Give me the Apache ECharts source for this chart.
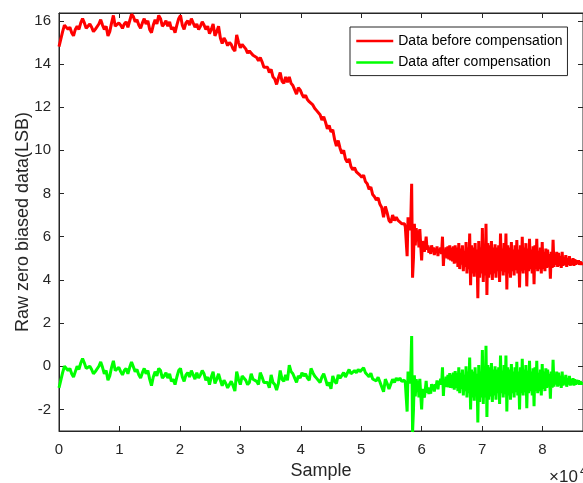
<!DOCTYPE html>
<html><head><meta charset="utf-8">
<script src="https://cdn.jsdelivr.net/npm/echarts@6.0.0/dist/echarts.min.js"></script>
<style>html,body{margin:0;padding:0;background:#fff}#c{width:583px;height:483px}</style>
</head><body><div id="c"></div>
<script>
const seriesNames = ['Data before compensation', 'Data after compensation'];
// sample spacing of the stored points: coarse part, then the dense noisy part
const STEP_EARLY = 300;
const LATE_START = 57000;
const STEP_LATE = 150;
// raw data (before compensation), samples 0 .. 56700
const beforeEarly = [
14.8,14.8,15.5,15.8,15.75,15.6,15.7,15.45,15.3,15.6,
15.75,15.6,15.9,16.1,15.9,15.65,15.7,15.85,15.7,15.5,
15.6,15.55,15.85,16.05,15.8,15.6,15.75,15.3,15.5,15.9,
16.25,15.75,15.7,15.9,15.8,15.65,15.85,15.95,15.7,16.0,
16.3,16.2,15.95,16.05,15.8,15.65,15.9,16.1,15.85,16.0,
15.6,15.45,15.8,16.05,15.85,16.25,16.1,15.75,15.85,16.0,
15.75,15.95,15.6,15.7,15.45,15.8,16.1,16.25,15.8,15.6,
15.9,16.0,15.8,16.1,16.05,15.7,15.85,15.6,15.75,15.95,
15.8,15.6,15.75,15.4,15.6,15.85,15.3,15.5,15.75,15.2,
14.95,15.2,15.05,14.85,15.0,14.9,14.7,14.6,15.35,15.0,
14.75,14.9,14.95,14.7,14.5,14.6,14.65,14.4,14.45,14.3,
14.15,14.3,14.1,13.85,13.8,13.85,13.6,13.75,13.4,13.3,
13.05,13.35,13.6,13.2,13.1,13.4,13.15,13.4,13.1,13.0,
12.8,12.6,12.9,12.8,12.6,12.45,12.55,12.35,12.25,12.3,
12.1,11.95,11.85,11.9,11.65,11.4,11.55,11.3,11.0,11.15,
10.85,10.95,10.5,10.2,10.45,10.1,9.85,10.0,9.6,9.45,
9.6,9.25,9.1,9.2,9.0,9.05,8.85,8.75,8.85,8.55,
8.45,8.2,8.3,7.95,7.85,7.7,7.8,7.5,7.35,6.9,
7.4,7.1,6.75,6.65,7.0,6.75,6.9,6.75,6.8,6.6
];
// raw data (before compensation), samples 57000 .. 86700
const beforeLate = [
6.55,6.6,6.45,6.5,5.1,6.9,6.6,6.3,6.7,8.45,
4.1,5.0,6.6,5.6,6.4,5.8,6.3,5.5,6.35,5.6,
4.9,5.8,5.5,5.3,5.6,6.0,5.4,5.6,5.25,5.5,
5.2,5.6,5.35,5.5,5.15,5.45,5.3,5.55,5.1,5.45,
5.25,5.5,5.2,6.0,4.65,5.4,5.05,5.5,5.0,5.55,
4.95,5.6,4.9,5.5,4.85,5.55,4.75,5.6,4.8,5.5,
4.6,5.7,4.5,5.45,4.7,5.6,4.4,5.35,4.6,5.75,
4.3,5.5,4.5,6.15,3.75,5.6,4.3,5.5,4.15,5.7,
4.4,5.4,3.15,5.8,4.1,5.5,4.3,6.4,3.9,5.6,
4.2,6.6,3.3,5.7,4.1,5.6,4.25,5.8,4.0,5.5,
4.3,5.65,4.1,5.5,4.4,5.6,3.9,6.15,4.4,5.45,
4.2,5.7,4.35,6.15,3.55,5.6,4.3,5.5,4.1,5.75,
4.4,5.4,4.2,5.6,4.45,5.85,4.3,5.4,3.65,5.6,
4.4,6.0,4.3,5.5,4.45,5.7,3.7,5.45,4.4,5.9,
4.5,5.4,4.3,5.55,3.8,5.6,4.5,5.9,4.4,5.35,
4.5,5.5,4.3,5.75,4.5,5.3,4.4,5.45,4.55,5.4,
4.6,5.2,4.05,5.3,4.55,5.85,4.6,5.2,4.7,5.3,
4.6,5.25,4.65,5.1,4.55,5.3,4.65,5.05,4.7,5.15,
4.6,5.0,4.7,5.1,4.65,4.95,4.7,5.0,4.65,4.95,
4.7,4.9,4.75,4.9,4.7,4.85,4.75,4.8,4.75
];
// data after compensation, samples 0 .. 56700
const afterEarly = [
-1.0,-1.0,-0.3,0.0,-0.05,-0.2,-0.1,-0.35,-0.5,-0.25,
0.0,-0.15,0.15,0.35,0.15,-0.1,-0.05,0.0,-0.15,-0.35,
-0.25,-0.3,0.0,0.2,-0.05,-0.35,-0.2,-0.65,-0.45,-0.05,
0.25,-0.2,-0.25,-0.05,-0.25,-0.4,-0.2,-0.1,-0.35,-0.05,
0.2,0.15,-0.25,-0.15,-0.4,-0.55,-0.3,-0.1,-0.35,-0.2,
-0.6,-0.9,-0.5,-0.25,-0.45,-0.1,-0.2,-0.55,-0.45,-0.3,
-0.55,-0.35,-0.7,-0.6,-0.85,-0.5,-0.2,-0.1,-0.5,-0.7,
-0.4,-0.3,-0.5,-0.2,-0.25,-0.6,-0.3,-0.55,-0.4,-0.2,
-0.35,-0.65,-0.5,-0.85,-0.5,-0.25,-0.8,-0.6,-0.35,-0.65,
-0.9,-0.65,-0.8,-1.0,-0.85,-0.7,-0.9,-1.15,-0.25,-0.6,
-0.85,-0.45,-0.4,-0.65,-0.85,-0.75,-0.35,-0.6,-0.55,-0.7,
-0.85,-0.3,-0.5,-0.75,-0.8,-0.75,-1.0,-0.4,-0.75,-0.85,
-1.1,-0.8,-0.2,-0.6,-0.7,-0.4,-0.65,0.05,-0.25,-0.35,
-0.55,-0.75,-0.45,-0.55,-0.3,-0.45,-0.35,-0.55,-0.65,-0.1,
-0.3,-0.45,-0.55,-0.5,-0.75,-0.5,-0.35,-0.6,-0.9,-0.75,
-1.05,-0.45,-0.7,-0.8,-0.4,-0.55,-0.6,-0.3,-0.5,-0.45,
-0.15,-0.35,-0.4,-0.2,-0.3,-0.15,-0.25,-0.25,-0.07,-0.3,
-0.32,-0.49,-0.32,-0.59,-0.61,-0.68,-0.51,-0.73,-0.8,-1.18,
-0.6,-0.8,-1.05,-1.05,-0.6,-0.75,-0.55,-0.65,-0.55,-0.7
];
// data after compensation, samples 57000 .. 86700
const afterLate = [
-0.7,-0.65,-0.77,-0.7,-2.1,-0.25,-0.53,-0.8,-0.38,1.4,
-3.05,-2.03,-0.42,-1.4,-0.6,-1.18,-0.66,-1.45,-0.58,-1.31,
-2.0,-1.05,-1.3,-1.45,-1.12,-0.68,-1.23,-0.98,-1.29,-1.0,
-1.27,-0.83,-1.05,-0.86,-1.17,-0.83,-0.95,-0.66,-1.07,-0.69,
-0.85,-0.58,-0.86,-0.05,-1.38,-0.61,-0.95,-0.48,-0.97,-0.4,
-0.98,-0.32,-1.0,-0.39,-1.02,-0.3,-1.09,-0.22,-1.01,-0.3,
-1.15,-0.05,-1.25,-0.3,-1.05,-0.15,-1.35,-0.4,-1.15,0.0,
-1.45,-0.25,-1.25,0.4,-2.0,-0.15,-1.45,-0.25,-1.6,-0.05,
-1.35,-0.35,-2.6,0.05,-1.65,-0.25,-1.45,0.75,-1.75,-0.05,
-1.45,0.95,-2.35,0.05,-1.55,-0.05,-1.4,0.15,-1.65,-0.15,
-1.35,0.0,-1.55,-0.15,-1.25,-0.05,-1.75,0.5,-1.25,-0.2,
-1.45,0.05,-1.3,0.5,-2.1,-0.05,-1.35,-0.15,-1.55,0.1,
-1.25,-0.25,-1.45,-0.05,-1.2,0.2,-1.35,-0.25,-2.0,-0.05,
-1.25,0.35,-1.35,-0.15,-1.2,0.05,-1.95,-0.2,-1.25,0.25,
-1.15,-0.25,-1.35,-0.1,-1.85,-0.05,-1.15,0.25,-1.25,-0.3,
-1.15,-0.15,-1.35,0.1,-1.05,-0.25,-1.15,-0.1,-1.0,-0.15,
-0.95,-0.35,-1.5,-0.25,-1.0,0.3,-0.95,-0.35,-0.85,-0.25,
-0.95,-0.3,-0.9,-0.45,-1.0,-0.25,-0.9,-0.5,-0.85,-0.4,
-0.95,-0.55,-0.85,-0.45,-0.9,-0.6,-0.85,-0.55,-0.9,-0.6,
-0.85,-0.65,-0.8,-0.65,-0.85,-0.7,-0.8,-0.75,-0.8
];
const yTicks = [-2, 0, 2, 4, 6, 8, 10, 12, 14, 16];
const xTicks = [0, 1, 2, 3, 4, 5, 6, 7, 8]; // in units of 10^4
const X_SCALE = 10000;
const X_MAX = 86700;
const Y_MIN = -3, Y_MAX = 16.36;

const FONT = '"Liberation Sans", Arial, Helvetica, sans-serif';
const AX = '#262626';
const xTickVals = xTicks.map(v => v * X_SCALE);
const toPairs = (early, late) =>
  early.map((v, i) => [i * STEP_EARLY, v]).concat(late.map((v, i) => [LATE_START + i * STEP_LATE, v]));

const chart = echarts.init(document.getElementById('c'));
const xBase = {
  type: 'value', min: 0, max: X_MAX, splitLine: {show: false},
  axisLine: {show: true, onZero: false, lineStyle: {color: AX, width: 1}},
  axisTick: {show: true, inside: true, length: 5, customValues: xTickVals, lineStyle: {color: AX}}
};
const yBase = {
  type: 'value', min: Y_MIN, max: Y_MAX, splitLine: {show: false},
  axisLine: {show: true, onZero: false, lineStyle: {color: AX, width: 1}},
  axisTick: {show: true, inside: true, length: 5, customValues: yTicks, lineStyle: {color: AX}}
};
chart.setOption({
  animation: false,
  backgroundColor: '#fff',
  grid: {left: 59, right: 0, top: 13, bottom: 52, show: true, borderColor: AX, borderWidth: 1,
         backgroundColor: '#fff', containLabel: false, outerBoundsMode: 'none'},
  xAxis: [
    Object.assign({}, xBase, {
      position: 'bottom',
      name: 'Sample', nameLocation: 'middle', nameGap: 31, nameMoveOverlap: false,
      nameTextStyle: {fontFamily: FONT, fontSize: 18, color: AX},
      axisLabel: {show: true, customValues: xTickVals, margin: 11, fontFamily: FONT, fontSize: 15, color: AX,
        formatter: v => String(Math.round(v / X_SCALE))}
    }),
    Object.assign({}, xBase, {position: 'top', axisLabel: {show: false}})
  ],
  yAxis: [
    Object.assign({}, yBase, {
      position: 'left',
      name: 'Raw zero biased data(LSB)', nameLocation: 'middle', nameGap: 27, nameMoveOverlap: false,
      nameTextStyle: {fontFamily: FONT, fontSize: 18, color: AX},
      axisLabel: {show: true, customValues: yTicks, margin: 8, fontFamily: FONT, fontSize: 15, color: AX}
    }),
    Object.assign({}, yBase, {position: 'right', axisLabel: {show: false}})
  ],
  legend: {
    left: 350, top: 27, orient: 'vertical', padding: [6, 5, 5, 5], itemGap: 5.6,
    itemWidth: 37, itemHeight: 16, borderColor: AX, borderWidth: 1, backgroundColor: '#fff',
    itemStyle: {opacity: 0}, lineStyle: {width: 2.5},
    textStyle: {fontFamily: FONT, fontSize: 14, color: '#000', lineHeight: 16},
    data: seriesNames
  },
  series: [
    {name: seriesNames[0], type: 'line', data: toPairs(beforeEarly, beforeLate), symbol: 'none', showSymbol: false,
     lineStyle: {color: '#ff0000', width: 3}, itemStyle: {color: '#ff0000'}, clip: true},
    {name: seriesNames[1], type: 'line', data: toPairs(afterEarly, afterLate), symbol: 'none', showSymbol: false,
     lineStyle: {color: '#00ff00', width: 3}, itemStyle: {color: '#00ff00'}, clip: true}
  ],
  graphic: [
    {type: 'text', style: {x: 549, y: 486, text: '×10', verticalAlign: 'bottom', fontFamily: FONT, fontSize: 17, fill: AX}},
    {type: 'text', style: {x: 580, y: 478, text: '4', verticalAlign: 'bottom', fontFamily: FONT, fontSize: 12, fill: AX}}
  ]
});
</script>
</body></html>
